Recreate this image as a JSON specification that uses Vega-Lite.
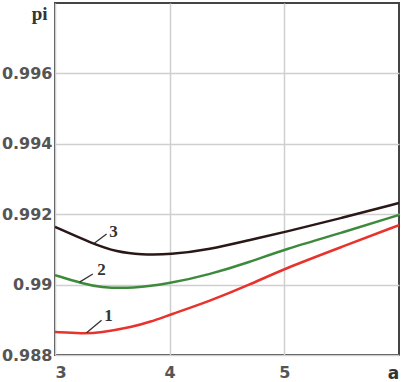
{
  "$schema": "https://vega.github.io/schema/vega-lite/v6.json",
  "autosize": "none",
  "width": 344,
  "height": 352,
  "padding": {"left": 55, "top": 3, "right": 3, "bottom": 27},
  "background": "white",
  "config": {
    "view": {"stroke": "#444", "strokeWidth": 2},
    "axis": {
      "labelFont": "DejaVu Sans", "labelFontSize": 16, "labelFontWeight": "bold", "labelColor": "#555",
      "ticks": false, "domain": false, "grid": true, "gridColor": "#cfcfcf", "gridWidth": 1.5,
      "titleFont": "Liberation Serif", "titleFontWeight": "bold", "titleFontSize": 19, "titleColor": "#333"
    }
  },
  "datasets": {
    "curves": [
      {"a": 3.0, "pi": 0.98865, "c": "1"}, {"a": 3.24, "pi": 0.98861, "c": "1"}, {"a": 3.39, "pi": 0.98863, "c": "1"},
      {"a": 3.68, "pi": 0.9888, "c": "1"}, {"a": 3.83, "pi": 0.98894, "c": "1"}, {"a": 4.0, "pi": 0.98914, "c": "1"},
      {"a": 4.35, "pi": 0.98953, "c": "1"}, {"a": 4.7, "pi": 0.99, "c": "1"}, {"a": 5.0, "pi": 0.99045, "c": "1"},
      {"a": 5.5, "pi": 0.99107, "c": "1"}, {"a": 6.0, "pi": 0.99169, "c": "1"},
      {"a": 3.0, "pi": 0.99027, "c": "2"}, {"a": 3.24, "pi": 0.99003, "c": "2"}, {"a": 3.39, "pi": 0.98992, "c": "2"},
      {"a": 3.68, "pi": 0.98989, "c": "2"}, {"a": 4.0, "pi": 0.99003, "c": "2"}, {"a": 4.35, "pi": 0.99029, "c": "2"},
      {"a": 4.7, "pi": 0.99064, "c": "2"}, {"a": 5.0, "pi": 0.991, "c": "2"}, {"a": 5.5, "pi": 0.99147, "c": "2"},
      {"a": 6.0, "pi": 0.99198, "c": "2"},
      {"a": 3.0, "pi": 0.99164, "c": "3"}, {"a": 3.33, "pi": 0.99116, "c": "3"}, {"a": 3.54, "pi": 0.99093, "c": "3"},
      {"a": 3.75, "pi": 0.99085, "c": "3"}, {"a": 4.0, "pi": 0.99085, "c": "3"}, {"a": 4.35, "pi": 0.991, "c": "3"},
      {"a": 4.7, "pi": 0.99127, "c": "3"}, {"a": 5.0, "pi": 0.99149, "c": "3"}, {"a": 5.5, "pi": 0.99189, "c": "3"},
      {"a": 6.0, "pi": 0.99232, "c": "3"}
    ],
    "labels": [
      {"a": 3.467, "pi": 0.98911, "t": "1", "a1": 3.275, "p1": 0.98863, "a2": 3.406, "p2": 0.98899},
      {"a": 3.406, "pi": 0.99041, "t": "2", "a1": 3.214, "p1": 0.99007, "a2": 3.33, "p2": 0.9903},
      {"a": 3.51, "pi": 0.99149, "t": "3", "a1": 3.345, "p1": 0.99118, "a2": 3.45, "p2": 0.99144}
    ]
  },
  "layer": [
    {
      "data": {"name": "curves"},
      "mark": {"type": "line", "strokeWidth": 2.5, "interpolate": "basis", "clip": true},
      "encoding": {
        "x": {"field": "a", "type": "quantitative", "scale": {"domain": [3, 6], "nice": false},
              "axis": {"values": [3, 4, 5], "format": "d", "labelPadding": 9, "title": "a", "titleAngle": 0, "titleX": 338, "titleY": 18, "titleBaseline": "middle", "titleFont": "DejaVu Sans", "titleFontSize": 17}},
        "y": {"field": "pi", "type": "quantitative", "scale": {"domain": [0.988, 0.998], "nice": false, "zero": false},
              "axis": {"values": [0.988, 0.99, 0.992, 0.994, 0.996], "format": ".3~f", "labelPadding": 3, "title": "pi", "titleAngle": 0, "titleAlign": "right", "titleX": -8, "titleY": 10, "titleBaseline": "middle"}},
        "color": {"field": "c", "type": "nominal", "scale": {"domain": ["1", "2", "3"], "range": ["#e8322c", "#3d8a3d", "#2a1818"]}, "legend": null},
        "detail": {"field": "c"}
      }
    },
    {
      "data": {"name": "labels"},
      "mark": {"type": "rule", "color": "#333", "strokeWidth": 1.3},
      "encoding": {
        "x": {"field": "a1", "type": "quantitative"},
        "y": {"field": "p1", "type": "quantitative"},
        "x2": {"field": "a2"},
        "y2": {"field": "p2"}
      }
    },
    {
      "data": {"name": "labels"},
      "mark": {"type": "text", "font": "Liberation Serif", "fontWeight": "bold", "fontSize": 17, "color": "#333", "align": "center", "baseline": "middle"},
      "encoding": {
        "x": {"field": "a", "type": "quantitative"},
        "y": {"field": "pi", "type": "quantitative"},
        "text": {"field": "t"}
      }
    }
  ]
}
